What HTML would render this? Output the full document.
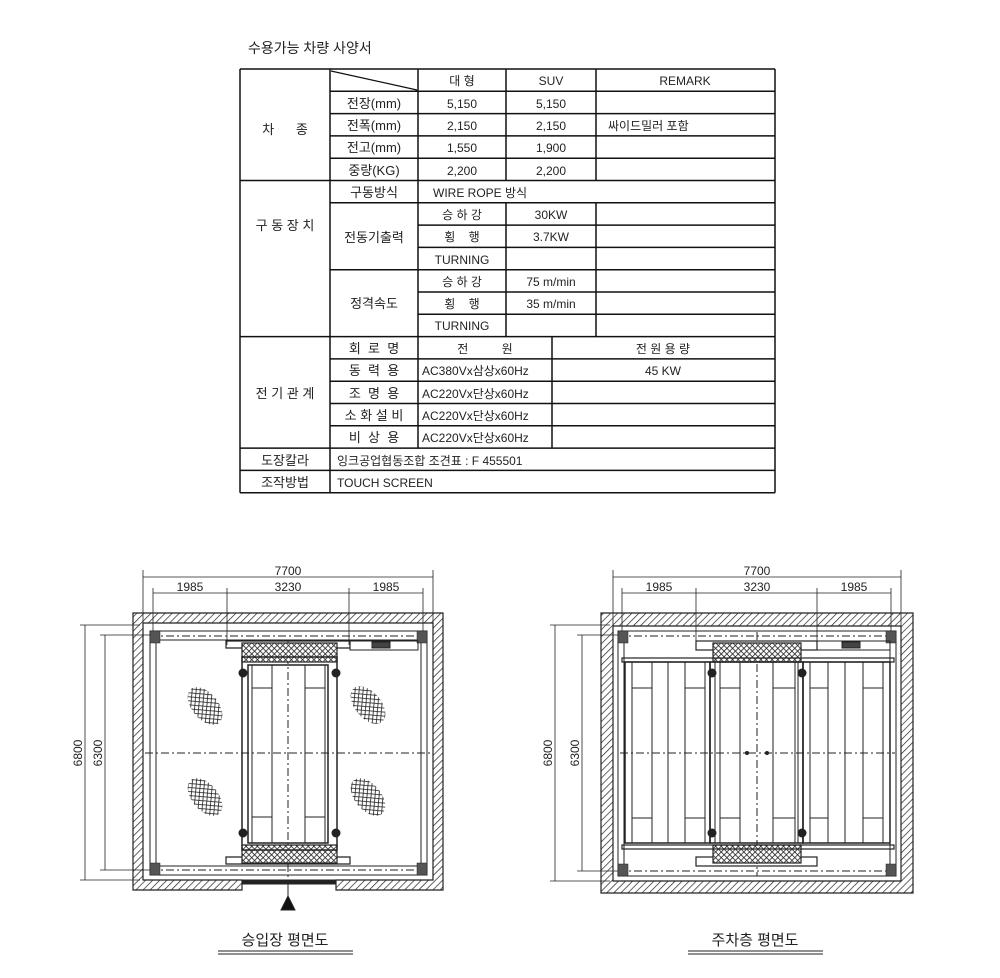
<!DOCTYPE html>
<html><head><meta charset="utf-8"><style>
html,body{margin:0;padding:0;background:#fff}
svg{display:block}
text{font-family:"Liberation Sans","Noto Sans CJK KR",sans-serif;fill:#222}
</style></head><body>
<svg width="1000" height="978" viewBox="0 0 1000 978" xmlns="http://www.w3.org/2000/svg">
<defs>
<pattern id="hatch" width="5" height="5" patternUnits="userSpaceOnUse" patternTransform="rotate(45)">
<rect width="5" height="5" fill="#fff"/><line x1="0" y1="0" x2="0" y2="5" stroke="#222" stroke-width="1.4"/></pattern>
<pattern id="mesh" width="4" height="4" patternUnits="userSpaceOnUse" patternTransform="rotate(45)">
<rect width="4" height="4" fill="#fff"/><line x1="0" y1="0" x2="0" y2="4" stroke="#222" stroke-width="1.6"/><line x1="0" y1="0" x2="4" y2="0" stroke="#222" stroke-width="1.6"/></pattern>
</defs>

<text x="248" y="53" font-size="14">수용가능 차량 사양서</text>

<g stroke="#111" stroke-width="1.5">
<line x1="240" y1="69" x2="775" y2="69"/><line x1="240" y1="492.7" x2="775" y2="492.7"/>
<line x1="330" y1="91.3" x2="775" y2="91.3"/><line x1="330" y1="113.6" x2="775" y2="113.6"/>
<line x1="330" y1="135.9" x2="775" y2="135.9"/><line x1="330" y1="158.2" x2="775" y2="158.2"/>
<line x1="240" y1="180.5" x2="775" y2="180.5"/><line x1="330" y1="202.8" x2="775" y2="202.8"/>
<line x1="418" y1="225.1" x2="775" y2="225.1"/><line x1="418" y1="247.4" x2="775" y2="247.4"/>
<line x1="330" y1="269.7" x2="775" y2="269.7"/><line x1="418" y1="292" x2="775" y2="292"/>
<line x1="418" y1="314.3" x2="775" y2="314.3"/><line x1="240" y1="336.6" x2="775" y2="336.6"/>
<line x1="330" y1="358.9" x2="775" y2="358.9"/><line x1="330" y1="381.2" x2="775" y2="381.2"/>
<line x1="330" y1="403.5" x2="775" y2="403.5"/><line x1="330" y1="425.8" x2="775" y2="425.8"/>
<line x1="240" y1="448.1" x2="775" y2="448.1"/><line x1="240" y1="470.4" x2="775" y2="470.4"/>
<line x1="240" y1="69" x2="240" y2="492.7"/><line x1="775" y1="69" x2="775" y2="492.7"/>
<line x1="330" y1="69" x2="330" y2="492.7"/><line x1="418" y1="69" x2="418" y2="448.1"/>
<line x1="506" y1="69" x2="506" y2="180.5"/><line x1="506" y1="202.8" x2="506" y2="336.6"/>
<line x1="596" y1="69" x2="596" y2="180.5"/><line x1="596" y1="202.8" x2="596" y2="336.6"/>
<line x1="552" y1="336.6" x2="552" y2="448.1"/>
<line x1="331" y1="71" x2="417" y2="90" stroke-width="1.2"/>
</g>

<g font-size="12" text-anchor="middle">
<text x="462" y="85" fill="#555">대 형</text><text x="551" y="85">SUV</text><text x="685" y="85">REMARK</text>
<text x="374" y="108" font-size="13">전장(mm)</text><text x="462" y="108">5,150</text><text x="551" y="108">5,150</text>
<text x="374" y="130" font-size="13">전폭(mm)</text><text x="462" y="130">2,150</text><text x="551" y="130">2,150</text>
<text x="374" y="152" font-size="13">전고(mm)</text><text x="462" y="152">1,550</text><text x="551" y="152">1,900</text>
<text x="374" y="175" font-size="13">중량(KG)</text><text x="462" y="175">2,200</text><text x="551" y="175">2,200</text>
<text x="285" y="134" font-size="13">차&#160;&#160;&#160;&#160;&#160;&#160;종</text>
<text x="374" y="197" font-size="13">구동방식</text>
<text x="285" y="230" font-size="13">구 동 장 치</text>
<text x="374" y="242" font-size="13">전동기출력</text>
<text x="462" y="219" fill="#666">승 하 강</text><text x="551" y="219">30KW</text>
<text x="462" y="241" fill="#666">횡&#160;&#160;&#160;&#160;행</text><text x="551" y="241">3.7KW</text>
<text x="462" y="264">TURNING</text>
<text x="374" y="308" font-size="13">정격속도</text>
<text x="462" y="286" fill="#666">승 하 강</text><text x="551" y="286">75 m/min</text>
<text x="462" y="308" fill="#666">횡&#160;&#160;&#160;&#160;행</text><text x="551" y="308">35 m/min</text>
<text x="462" y="330">TURNING</text>
<text x="374" y="353" font-size="13">회&#160;&#160;로&#160;&#160;명</text>
<text x="485" y="353" fill="#666">전&#160;&#160;&#160;&#160;&#160;&#160;&#160;&#160;&#160;&#160;원</text>
<text x="663" y="353" fill="#666">전 원 용 량</text>
<text x="374" y="375" font-size="13">동&#160;&#160;력&#160;&#160;용</text><text x="663" y="375">45 KW</text>
<text x="374" y="398" font-size="13">조&#160;&#160;명&#160;&#160;용</text>
<text x="374" y="420" font-size="13">소 화 설 비</text>
<text x="374" y="442" font-size="13">비&#160;&#160;상&#160;&#160;용</text>
<text x="285" y="398" font-size="13">전 기 관 계</text>
<text x="285" y="465" font-size="13">도장칼라</text>
<text x="285" y="487" font-size="13">조작방법</text>
</g>
<g font-size="12">
<text x="608" y="130" fill="#555">싸이드밀러 포함</text>
<text x="433" y="197">WIRE ROPE 방식</text>
<text x="422" y="375">AC380Vx삼상x60Hz</text>
<text x="422" y="398">AC220Vx단상x60Hz</text>
<text x="422" y="420">AC220Vx단상x60Hz</text>
<text x="422" y="442">AC220Vx단상x60Hz</text>
<text x="337" y="465" fill="#555">잉크공업협동조합 조견표 : F 455501</text>
<text x="337" y="487">TOUCH SCREEN</text>
</g>

<!-- ===== Drawing 1 ===== -->
<g stroke="#222" fill="none">
<path d="M133 613 H443 V890 H336 V880 H433 V623 H143 V880 H242 V890 H133 Z" fill="url(#hatch)" stroke-width="1.2"/>
<g stroke-width="0.8">
<line x1="143" y1="577" x2="433" y2="577"/><line x1="143" y1="570" x2="143" y2="623"/><line x1="433" y1="570" x2="433" y2="623"/>
<line x1="153" y1="593" x2="423" y2="593"/>
<line x1="153" y1="588" x2="153" y2="640"/><line x1="227" y1="588" x2="227" y2="645"/><line x1="349" y1="588" x2="349" y2="645"/><line x1="423" y1="588" x2="423" y2="640"/>
<line x1="85" y1="625" x2="85" y2="880"/><line x1="80" y1="625" x2="140" y2="625"/><line x1="80" y1="880" x2="140" y2="880"/>
<line x1="105" y1="635" x2="105" y2="870"/><line x1="100" y1="635" x2="150" y2="635"/><line x1="100" y1="870" x2="150" y2="870"/>
</g>
<rect x="150" y="631" width="277" height="244" stroke-width="1"/>
<line x1="150" y1="640" x2="427" y2="640" stroke-width="1"/>
<line x1="150" y1="866" x2="427" y2="866" stroke-width="1"/>
<line x1="156" y1="631" x2="156" y2="875" stroke-width="1"/><line x1="421" y1="631" x2="421" y2="875" stroke-width="1"/>
<g stroke-dasharray="8,3,2,3" stroke-width="1">
<line x1="150" y1="636" x2="427" y2="636"/><line x1="150" y1="870" x2="427" y2="870"/>
<line x1="145" y1="753" x2="432" y2="753"/><line x1="288" y1="640" x2="288" y2="905"/>
</g>
<rect x="150" y="631" width="10" height="12" fill="#555" stroke-width="0.5"/><rect x="417" y="631" width="10" height="12" fill="#555" stroke-width="0.5"/>
<rect x="150" y="863" width="10" height="12" fill="#555" stroke-width="0.5"/><rect x="417" y="863" width="10" height="12" fill="#555" stroke-width="0.5"/>
<path d="M226 641 H350 V648 H226 Z" stroke-width="1.2"/>
<path d="M226 857 H350 V864 H226 Z" stroke-width="1.2"/>
<rect x="350" y="641" width="68" height="9" stroke-width="1"/>
<rect x="372" y="642" width="18" height="6" fill="#444"/>
<rect x="242" y="643" width="95" height="19" fill="url(#mesh)" stroke-width="1.2"/>
<rect x="242" y="845" width="95" height="18" fill="url(#mesh)" stroke-width="1.2"/>
<rect x="242" y="657" width="95" height="193" stroke-width="1.5"/>
<rect x="248" y="665" width="80" height="178" stroke-width="1.5"/>
<line x1="252" y1="665" x2="252" y2="843"/><line x1="272" y1="665" x2="272" y2="843"/>
<line x1="305" y1="665" x2="305" y2="843"/><line x1="325" y1="665" x2="325" y2="843"/>
<line x1="252" y1="688" x2="272" y2="688"/><line x1="305" y1="688" x2="325" y2="688"/>
<line x1="252" y1="817" x2="272" y2="817"/><line x1="305" y1="817" x2="325" y2="817"/>
<circle cx="243" cy="673" r="4" fill="#222"/><circle cx="336" cy="673" r="4" fill="#222"/>
<circle cx="243" cy="833" r="4" fill="#222"/><circle cx="336" cy="833" r="4" fill="#222"/>
<rect x="242" y="880" width="94" height="4" fill="#222"/>
<ellipse cx="205" cy="706" rx="22" ry="13" transform="rotate(50 205 706)" fill="url(#mesh)" stroke="none"/>
<ellipse cx="205" cy="797" rx="22" ry="13" transform="rotate(50 205 797)" fill="url(#mesh)" stroke="none"/>
<ellipse cx="368" cy="705" rx="22" ry="13" transform="rotate(50 368 705)" fill="url(#mesh)" stroke="none"/>
<ellipse cx="368" cy="797" rx="22" ry="13" transform="rotate(50 368 797)" fill="url(#mesh)" stroke="none"/>
<line x1="288" y1="880" x2="288" y2="900" stroke-width="1"/>
<polygon points="288,896 281,910 295,910" fill="#111"/>
<line x1="218" y1="951" x2="353" y2="951" stroke-width="1"/><line x1="218" y1="954" x2="353" y2="954" stroke-width="1"/>
</g>
<g font-size="12" text-anchor="middle">
<text x="288" y="575" fill="#444">7700</text>
<text x="190" y="591" fill="#444">1985</text><text x="288" y="591" fill="#444">3230</text><text x="386" y="591" fill="#444">1985</text>
<text x="0" y="0" fill="#444" transform="translate(82 753) rotate(-90)">6800</text>
<text x="0" y="0" fill="#444" transform="translate(102 753) rotate(-90)">6300</text>
<text x="285" y="945" font-size="15">승입장 평면도</text>
</g>

<!-- ===== Drawing 2 ===== -->
<g stroke="#222" fill="none">
<path d="M601 613 H913 V893 H601 Z M613 626 V881 H901 V626 Z" fill="url(#hatch)" fill-rule="evenodd" stroke-width="1.2"/>
<g stroke-width="0.8">
<line x1="613" y1="577" x2="901" y2="577"/><line x1="613" y1="570" x2="613" y2="626"/><line x1="901" y1="570" x2="901" y2="626"/>
<line x1="622" y1="593" x2="891" y2="593"/>
<line x1="622" y1="588" x2="622" y2="640"/><line x1="696" y1="588" x2="696" y2="645"/><line x1="817" y1="588" x2="817" y2="645"/><line x1="891" y1="588" x2="891" y2="640"/>
<line x1="555" y1="625" x2="555" y2="881"/><line x1="550" y1="625" x2="610" y2="625"/><line x1="550" y1="881" x2="610" y2="881"/>
<line x1="582" y1="635" x2="582" y2="871"/><line x1="577" y1="635" x2="620" y2="635"/><line x1="577" y1="871" x2="620" y2="871"/>
</g>
<rect x="618" y="631" width="278" height="245" stroke-width="1"/>
<line x1="624" y1="631" x2="624" y2="876" stroke-width="1"/><line x1="890" y1="631" x2="890" y2="876" stroke-width="1"/>
<g stroke-dasharray="8,3,2,3" stroke-width="1">
<line x1="618" y1="636" x2="896" y2="636"/><line x1="618" y1="871" x2="896" y2="871"/>
<line x1="620" y1="753" x2="895" y2="753"/><line x1="757" y1="632" x2="757" y2="876"/>
</g>
<rect x="618" y="631" width="10" height="12" fill="#555" stroke-width="0.5"/><rect x="886" y="631" width="10" height="12" fill="#555" stroke-width="0.5"/>
<rect x="618" y="864" width="10" height="12" fill="#555" stroke-width="0.5"/><rect x="886" y="864" width="10" height="12" fill="#555" stroke-width="0.5"/>
<rect x="696" y="641" width="121" height="9" stroke-width="1.2"/>
<rect x="696" y="857" width="121" height="9" stroke-width="1.2"/>
<rect x="817" y="641" width="73" height="9" stroke-width="1"/>
<rect x="842" y="642" width="18" height="6" fill="#444"/>
<rect x="713" y="643" width="88" height="19" fill="url(#mesh)" stroke-width="1.2"/>
<rect x="713" y="845" width="88" height="18" fill="url(#mesh)" stroke-width="1.2"/>
<rect x="622" y="658" width="272" height="4" stroke-width="1.2"/>
<rect x="622" y="845" width="272" height="4" stroke-width="1.2"/>
<rect x="625" y="662" width="85" height="181" stroke-width="1.5"/>
<rect x="710" y="662" width="93" height="181" stroke-width="1.5"/>
<rect x="803" y="662" width="87" height="181" stroke-width="1.5"/>
<g stroke-width="1">
<line x1="632" y1="662" x2="632" y2="843"/><line x1="652" y1="662" x2="652" y2="843"/><line x1="668" y1="662" x2="668" y2="843"/><line x1="685" y1="662" x2="685" y2="843"/><line x1="705" y1="662" x2="705" y2="843"/>
<line x1="632" y1="688" x2="652" y2="688"/><line x1="685" y1="688" x2="705" y2="688"/><line x1="632" y1="818" x2="652" y2="818"/><line x1="685" y1="818" x2="705" y2="818"/>
<line x1="715" y1="662" x2="715" y2="843"/><line x1="720" y1="662" x2="720" y2="843"/><line x1="740" y1="662" x2="740" y2="843"/><line x1="773" y1="662" x2="773" y2="843"/><line x1="795" y1="662" x2="795" y2="843"/><line x1="798" y1="662" x2="798" y2="843"/>
<line x1="720" y1="688" x2="740" y2="688"/><line x1="773" y1="688" x2="795" y2="688"/><line x1="720" y1="818" x2="740" y2="818"/><line x1="773" y1="818" x2="795" y2="818"/>
<line x1="810" y1="662" x2="810" y2="843"/><line x1="828" y1="662" x2="828" y2="843"/><line x1="845" y1="662" x2="845" y2="843"/><line x1="863" y1="662" x2="863" y2="843"/><line x1="883" y1="662" x2="883" y2="843"/>
<line x1="810" y1="688" x2="828" y2="688"/><line x1="863" y1="688" x2="883" y2="688"/><line x1="810" y1="818" x2="828" y2="818"/><line x1="863" y1="818" x2="883" y2="818"/>
</g>
<circle cx="712" cy="673" r="4" fill="#222"/><circle cx="802" cy="673" r="4" fill="#222"/>
<circle cx="712" cy="833" r="4" fill="#222"/><circle cx="802" cy="833" r="4" fill="#222"/>
<circle cx="747" cy="753" r="1.5" fill="#222"/><circle cx="767" cy="753" r="1.5" fill="#222"/>
<line x1="688" y1="951" x2="823" y2="951" stroke-width="1"/><line x1="688" y1="954" x2="823" y2="954" stroke-width="1"/>
</g>
<g font-size="12" text-anchor="middle">
<text x="757" y="575" fill="#444">7700</text>
<text x="659" y="591" fill="#444">1985</text><text x="757" y="591" fill="#444">3230</text><text x="854" y="591" fill="#444">1985</text>
<text x="0" y="0" fill="#444" transform="translate(552 753) rotate(-90)">6800</text>
<text x="0" y="0" fill="#444" transform="translate(579 753) rotate(-90)">6300</text>
<text x="755" y="945" font-size="15">주차층 평면도</text>
</g>
</svg>
</body></html>
